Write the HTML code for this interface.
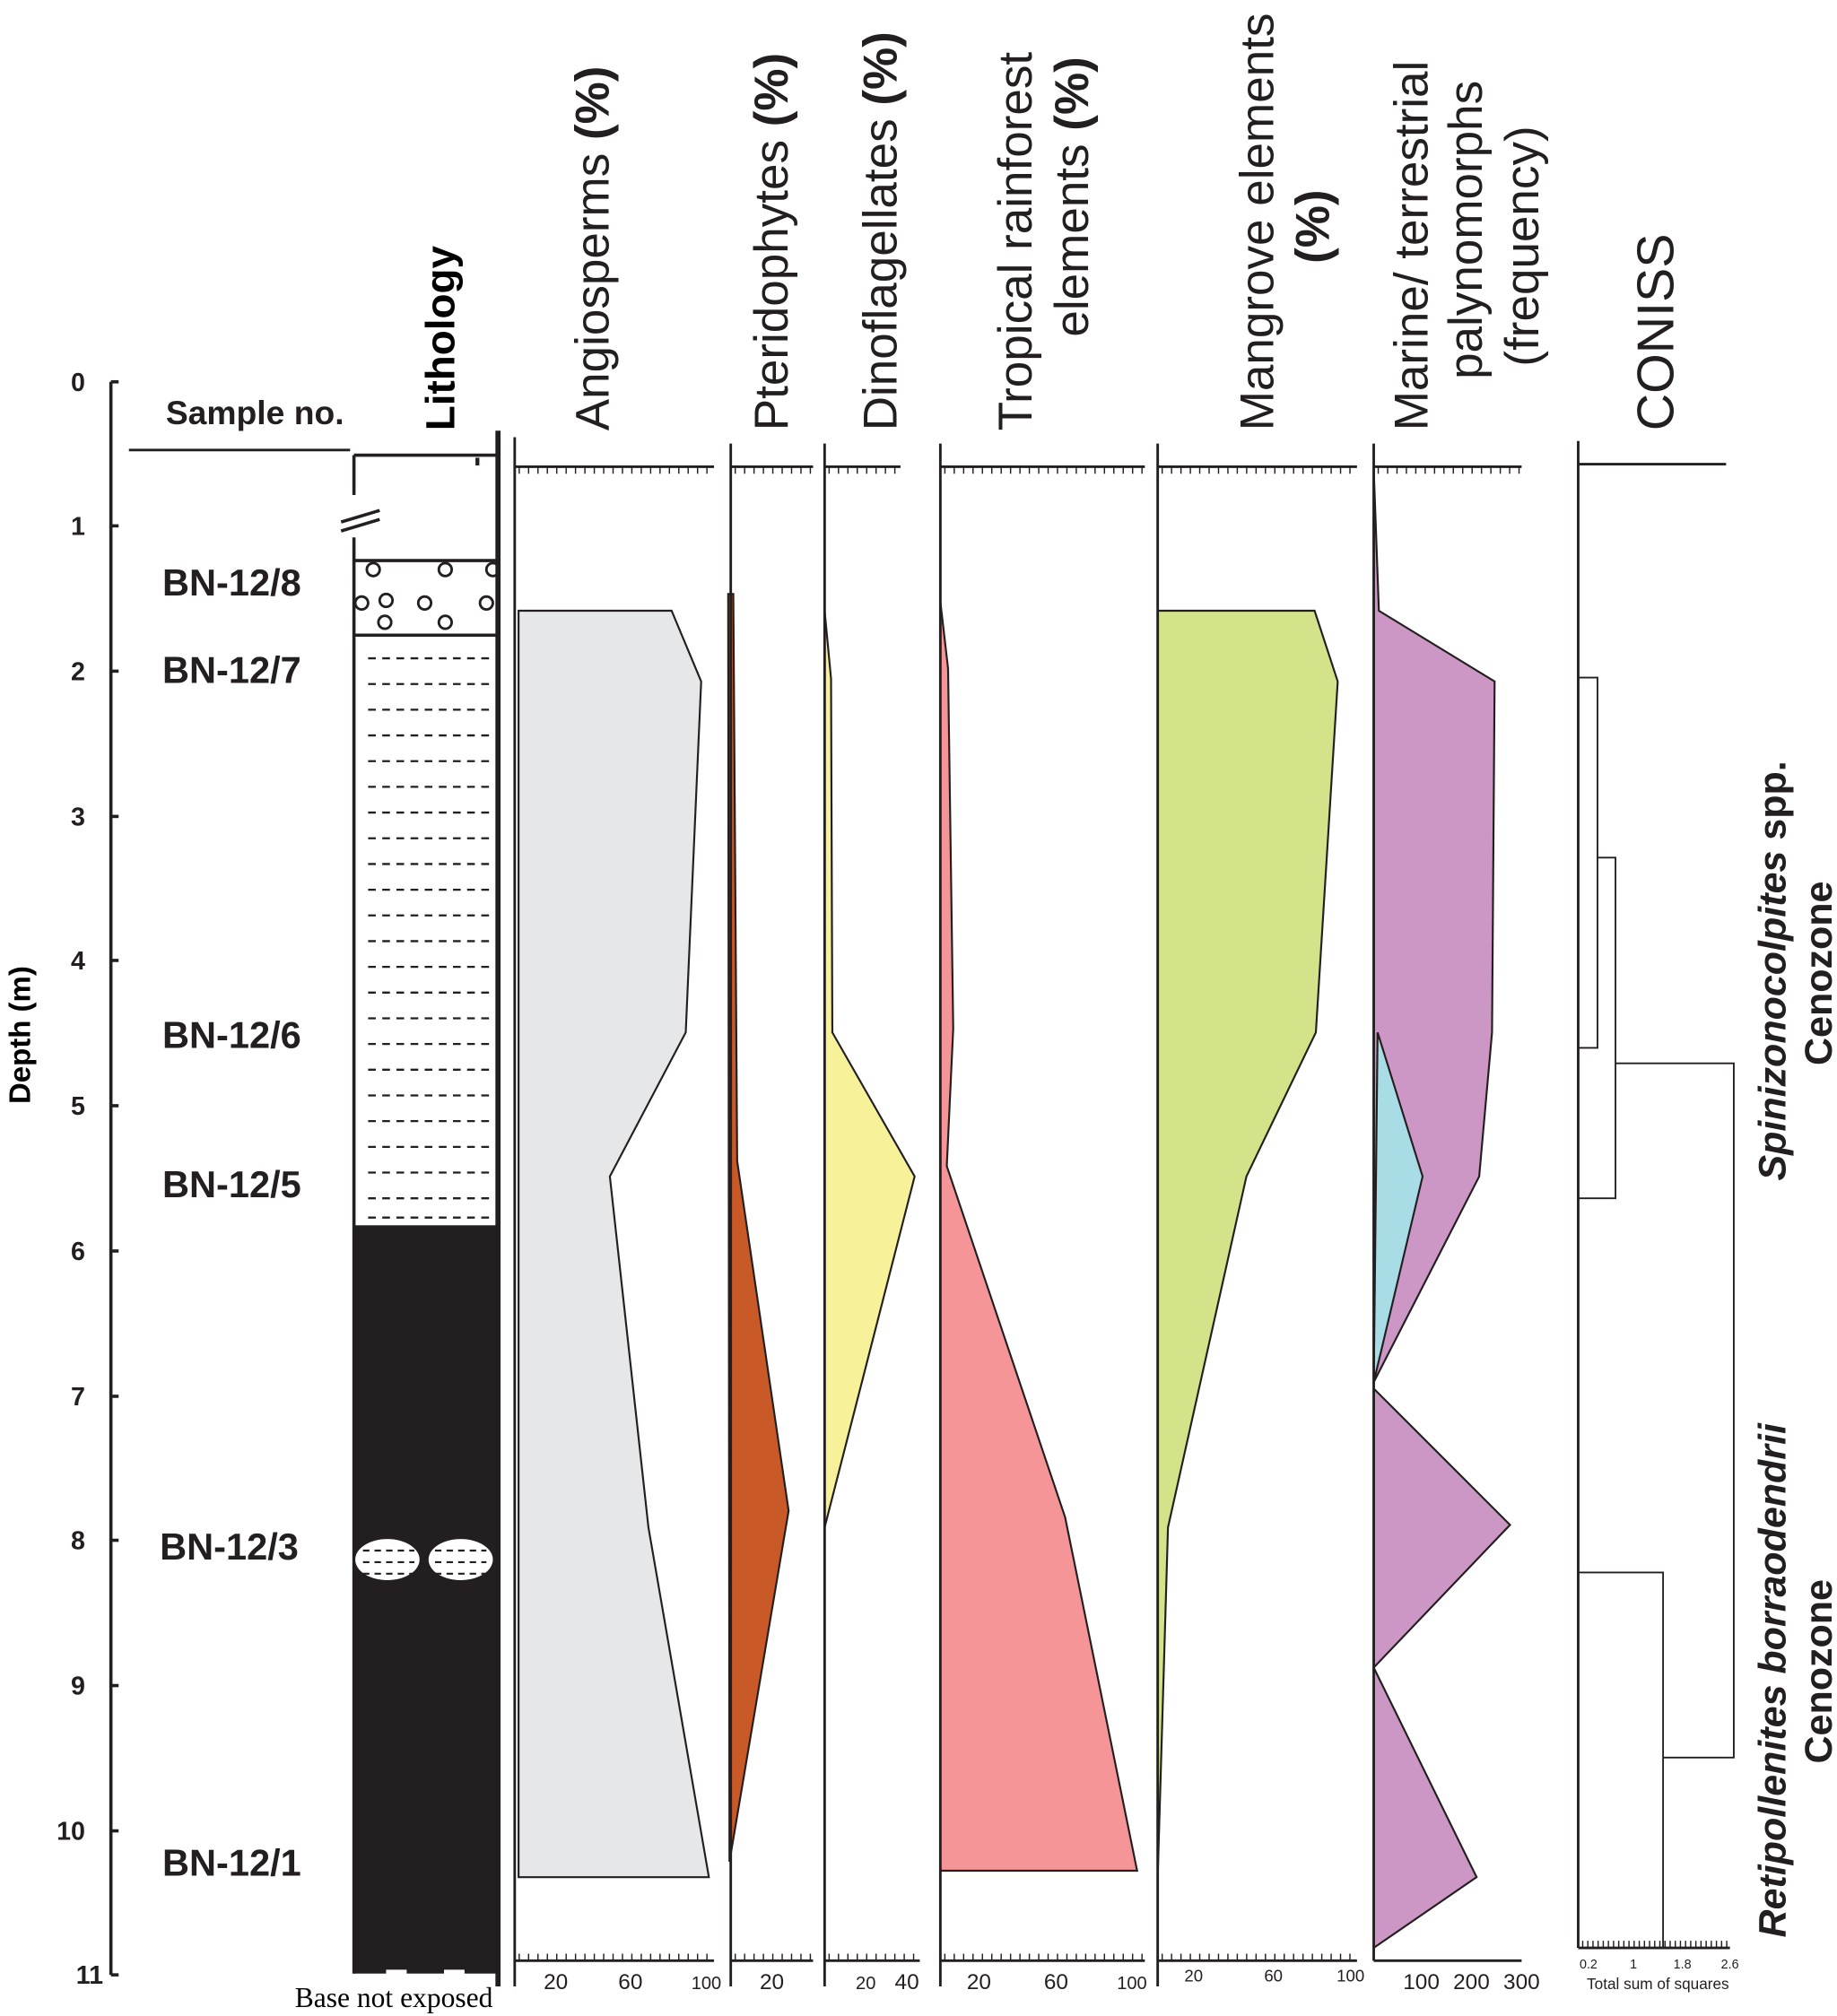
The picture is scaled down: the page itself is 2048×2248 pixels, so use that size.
<!DOCTYPE html>
<html><head><meta charset="utf-8"><style>html,body{margin:0;padding:0;background:#fff}svg{display:block}</style></head>
<body>
<svg width="2048" height="2248" viewBox="0 0 1428 1568" xmlns="http://www.w3.org/2000/svg" font-family="Liberation Sans, sans-serif">
<rect width="1428" height="1568" fill="#fff"/>
<g stroke="#231f20" stroke-width="2.5" fill="none">
<line x1="86" y1="297" x2="86" y2="1536"/>
<line x1="86" y1="297" x2="92" y2="297"/><line x1="86" y1="409" x2="92" y2="409"/><line x1="86" y1="522" x2="92" y2="522"/><line x1="86" y1="635" x2="92" y2="635"/><line x1="86" y1="747" x2="92" y2="747"/><line x1="86" y1="860" x2="92" y2="860"/><line x1="86" y1="973" x2="92" y2="973"/><line x1="86" y1="1086" x2="92" y2="1086"/><line x1="86" y1="1198" x2="92" y2="1198"/><line x1="86" y1="1311" x2="92" y2="1311"/><line x1="86" y1="1424" x2="92" y2="1424"/><line x1="86" y1="1536" x2="92" y2="1536"/>
</g>
<g font-size="20" font-weight="bold" text-anchor="end" fill="#231f20">
<text x="66" y="304">0</text><text x="66" y="416">1</text><text x="66" y="529">2</text><text x="66" y="642">3</text><text x="66" y="754">4</text><text x="66" y="867">5</text><text x="66" y="980">6</text><text x="66" y="1093">7</text><text x="66" y="1205">8</text><text x="66" y="1318">9</text><text x="66" y="1431">10</text><text x="80" y="1543">11</text>
</g>
<text transform="translate(23,805) rotate(-90)" font-size="23" font-weight="bold" text-anchor="middle">Depth (m)</text>
<text x="198" y="330" font-size="26" font-weight="bold" text-anchor="middle" fill="#231f20">Sample no.</text>
<line x1="100" y1="350" x2="272" y2="350" stroke="#231f20" stroke-width="2"/>
<text transform="translate(353,335) rotate(-90)" font-size="32" font-weight="bold">Lithology</text>
<rect x="275" y="953" width="111" height="582" fill="#231f20"/>
<g stroke="#231f20" stroke-width="2.5" fill="none">
<line x1="275" y1="354" x2="386" y2="354"/>
<line x1="275" y1="354" x2="275" y2="385"/><line x1="275" y1="418" x2="275" y2="1535"/>
<line x1="265" y1="406" x2="295" y2="397"/><line x1="265" y1="413" x2="295" y2="404"/>
<line x1="275" y1="436" x2="386" y2="436"/><line x1="275" y1="494" x2="386" y2="494"/>
<line x1="387" y1="335" x2="387" y2="1545" stroke-width="4"/>
<line x1="371" y1="356" x2="371" y2="362" stroke-width="3"/>
</g>
<g stroke="#231f20" stroke-width="2" fill="none">
<circle cx="290" cy="443" r="5"/><circle cx="346" cy="443" r="5"/><circle cx="383" cy="443" r="5"/><circle cx="281" cy="469" r="5"/><circle cx="300" cy="467" r="5"/><circle cx="330" cy="469" r="5"/><circle cx="378" cy="469" r="5"/>
<circle cx="299" cy="484" r="5"/><circle cx="346" cy="484" r="5"/>
</g>
<g stroke="#231f20" stroke-width="1.6" stroke-dasharray="6,5">
<line x1="286" y1="512" x2="383" y2="512"/><line x1="286" y1="532" x2="383" y2="532"/><line x1="286" y1="552" x2="383" y2="552"/><line x1="286" y1="572" x2="383" y2="572"/><line x1="286" y1="592" x2="383" y2="592"/><line x1="286" y1="612" x2="383" y2="612"/><line x1="286" y1="632" x2="383" y2="632"/><line x1="286" y1="652" x2="383" y2="652"/><line x1="286" y1="672" x2="383" y2="672"/><line x1="286" y1="692" x2="383" y2="692"/><line x1="286" y1="712" x2="383" y2="712"/><line x1="286" y1="732" x2="383" y2="732"/><line x1="286" y1="752" x2="383" y2="752"/><line x1="286" y1="772" x2="383" y2="772"/><line x1="286" y1="792" x2="383" y2="792"/><line x1="286" y1="812" x2="383" y2="812"/><line x1="286" y1="832" x2="383" y2="832"/><line x1="286" y1="852" x2="383" y2="852"/><line x1="286" y1="872" x2="383" y2="872"/><line x1="286" y1="892" x2="383" y2="892"/><line x1="286" y1="912" x2="383" y2="912"/><line x1="286" y1="932" x2="383" y2="932"/><line x1="286" y1="947" x2="383" y2="947"/>
</g>
<ellipse cx="301" cy="1213" rx="25" ry="16" fill="#fff"/><ellipse cx="358" cy="1213" rx="25" ry="16" fill="#fff"/>
<g stroke="#231f20" stroke-width="1.5" stroke-dasharray="5,4"><line x1="282" y1="1206" x2="322" y2="1206"/><line x1="282" y1="1215" x2="322" y2="1215"/><line x1="282" y1="1224" x2="322" y2="1224"/><line x1="338" y1="1206" x2="378" y2="1206"/><line x1="338" y1="1215" x2="378" y2="1215"/><line x1="338" y1="1224" x2="378" y2="1224"/></g>
<g fill="#fff"><rect x="300" y="1532" width="16" height="4"/><rect x="345" y="1532" width="16" height="4"/></g>
<text x="306" y="1561" font-family="Liberation Serif, serif" font-size="22" text-anchor="middle">Base not exposed</text>
<g font-size="29" font-weight="bold" text-anchor="middle" fill="#231f20">
<text x="180" y="463">BN-12/8</text><text x="180" y="531">BN-12/7</text><text x="180" y="815">BN-12/6</text><text x="180" y="931">BN-12/5</text><text x="178" y="1213">BN-12/3</text><text x="180" y="1459">BN-12/1</text>
</g>
<g stroke="#231f20" stroke-width="1.5">
<polygon points="403,475 522,475 545,530 533,803 474,915 504,1188 551,1460 403,1460" fill="#e6e7e8"/>
<polygon points="566,462 570,462 573,903 613,1175 567,1448" fill="#c95a27"/>
<polygon points="641,475 646,528 647,803 711,915 641,1188" fill="#f7f29a"/>
<polygon points="731,468 737,520 741,800 736,907 828,1180 884,1455 731,1455" fill="#f59597"/>
<polygon points="900,475 1022,475 1040,530 1023,803 969,915 908,1188 900,1460" fill="#d3e38a"/>
<polygon points="1068,365 1072,475 1162,530 1160,803 1150,915 1068,1075" fill="#cc97c4"/>
<polygon points="1071,803 1106,915 1068,1075" fill="#a9dde6"/>
<polygon points="1068,1080 1174,1186 1068,1297" fill="#cc97c4"/>
<polygon points="1068,1297 1148,1460 1068,1515" fill="#cc97c4"/>
</g>
<g stroke="#231f20" stroke-width="2" fill="none">
<line x1="400" y1="340" x2="400" y2="1545"/><line x1="400" y1="363" x2="555" y2="363"/><line x1="400" y1="1525" x2="555" y2="1525"/>
<line x1="568" y1="345" x2="568" y2="1545"/><line x1="568" y1="363" x2="632" y2="363"/><line x1="568" y1="1525" x2="632" y2="1525"/>
<line x1="641" y1="345" x2="641" y2="1545"/><line x1="641" y1="363" x2="700" y2="363"/><line x1="641" y1="1525" x2="715" y2="1525"/>
<line x1="731" y1="345" x2="731" y2="1545"/><line x1="731" y1="363" x2="890" y2="363"/><line x1="731" y1="1525" x2="890" y2="1525"/>
<line x1="900" y1="345" x2="900" y2="1545"/><line x1="900" y1="363" x2="1055" y2="363"/><line x1="900" y1="1525" x2="1055" y2="1525"/>
<line x1="1068" y1="345" x2="1068" y2="1525"/><line x1="1068" y1="363" x2="1183" y2="363"/><line x1="1068" y1="1525" x2="1183" y2="1525"/>
<line x1="1227" y1="343" x2="1227" y2="1515"/><line x1="1227" y1="361" x2="1342" y2="361"/><line x1="1227" y1="1515" x2="1345" y2="1515"/>
</g>
<g stroke="#231f20" stroke-width="5" stroke-dasharray="1,6.3">
<line x1="403" y1="366" x2="555" y2="366"/><line x1="403" y1="1522" x2="555" y2="1522"/>
<line x1="571" y1="366" x2="632" y2="366"/><line x1="571" y1="1522" x2="632" y2="1522"/>
<line x1="644" y1="366" x2="700" y2="366"/><line x1="644" y1="1522" x2="715" y2="1522"/>
<line x1="734" y1="366" x2="890" y2="366"/><line x1="734" y1="1522" x2="890" y2="1522"/>
<line x1="903" y1="366" x2="1055" y2="366"/><line x1="903" y1="1522" x2="1055" y2="1522"/>
<line x1="1071" y1="366" x2="1183" y2="366"/><line x1="1230" y1="1512" x2="1345" y2="1512" stroke-dasharray="1,3"/>
</g>
<g font-size="17" text-anchor="middle" fill="#231f20">
<text x="432" y="1547">20</text><text x="490" y="1547">60</text><text x="549" y="1547" font-size="14">100</text>
<text x="600" y="1547">20</text>
<text x="673" y="1547" font-size="14">20</text><text x="705" y="1547">40</text>
<text x="761" y="1547">20</text><text x="821" y="1547">60</text><text x="880" y="1547" font-size="14">100</text>
<text x="928" y="1541" font-size="13">20</text><text x="990" y="1541" font-size="13">60</text><text x="1050" y="1541" font-size="13">100</text>
<text x="1105" y="1547">100</text><text x="1144" y="1547">200</text><text x="1183" y="1547">300</text>
<text x="1235" y="1531" font-size="10">0.2</text><text x="1270" y="1531" font-size="10">1</text><text x="1308" y="1531" font-size="10">1.8</text><text x="1345" y="1531" font-size="10">2.6</text>
<text x="1289" y="1547" font-size="12">Total sum of squares</text>
</g>
<g stroke="#231f20" stroke-width="1.3" fill="none">
<polyline points="1227,527 1242,527 1242,815 1227,815"/>
<polyline points="1242,667 1256,667 1256,932 1227,932"/>
<polyline points="1256,827 1348,827 1348,1367 1293,1367"/>
<polyline points="1227,1223 1293,1223 1293,1515"/>
</g>
<g font-size="37" fill="#231f20">
<text transform="translate(473,335) rotate(-90)">Angiosperms <tspan font-weight="bold">(%)</tspan></text>
<text transform="translate(612,335) rotate(-90)">Pteridophytes <tspan font-weight="bold">(%)</tspan></text>
<text transform="translate(697,335) rotate(-90)">Dinoflagellates <tspan font-weight="bold">(%)</tspan></text>
<text transform="translate(802,335) rotate(-90)">Tropical rainforest</text>
<text transform="translate(846,262) rotate(-90)">elements <tspan font-weight="bold">(%)</tspan></text>
<text transform="translate(990,335) rotate(-90)">Mangrove elements</text>
<text transform="translate(1033,205) rotate(-90)" font-weight="bold">(%)</text>
<text transform="translate(1110,335) rotate(-90)">Marine/ terrestrial</text>
<text transform="translate(1152,295) rotate(-90)">palynomorphs</text>
<text transform="translate(1196,285) rotate(-90)">(frequency)</text>
<text transform="translate(1301,335) rotate(-90)" font-size="40">CONISS</text>
</g>
<g font-size="30" font-weight="bold" fill="#231f20" text-anchor="middle">
<text transform="translate(1388,755) rotate(-90)"><tspan font-style="italic">Spinizonocolpites</tspan> spp.</text>
<text transform="translate(1424,757) rotate(-90)">Cenozone</text>
<text transform="translate(1388,1307) rotate(-90)" font-style="italic">Retipollenites borraodendrii</text>
<text transform="translate(1424,1300) rotate(-90)">Cenozone</text>
</g>
</svg>
</body></html>
